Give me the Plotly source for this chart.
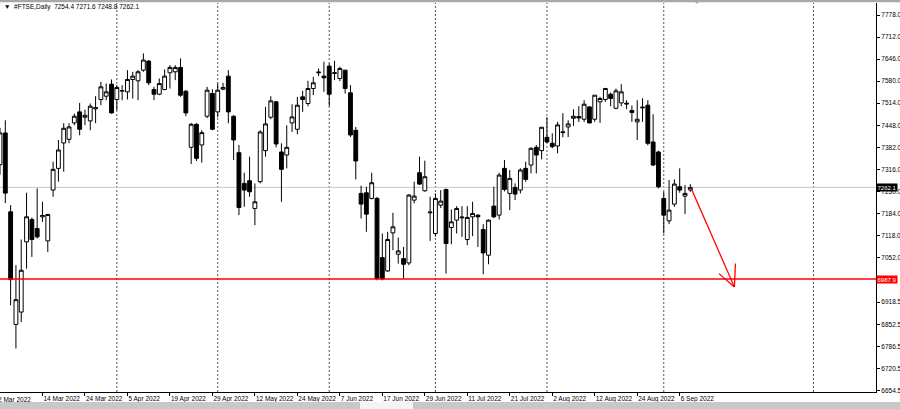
import pandas as pd
import plotly.graph_objects as go

# ---------------- data ----------------
SYMBOL = "#FTSE,Daily"
START_DATE = "2022-03-02"
END_DATE = "2022-09-08"
HOLIDAYS = ["2022-04-15", "2022-04-18", "2022-05-02", "2022-06-02", "2022-06-03", "2022-08-29"]

OPEN = [7330, 7425, 7189, 6852, 6889, 7099, 7166, 7139, 7174, 7102,
        7254, 7319, 7395, 7406, 7455, 7488, 7472, 7461, 7497, 7525,
        7535, 7571, 7525, 7550, 7548, 7585, 7581, 7613, 7640, 7555,
        7541, 7555, 7605, 7608, 7621, 7550, 7382, 7451, 7389, 7475,
        7543, 7488, 7556, 7595, 7475, 7366, 7274, 7282, 7199, 7279,
        7372, 7472, 7518, 7368, 7359, 7455, 7436, 7533, 7513, 7558,
        7605, 7595, 7625, 7603, 7588, 7613, 7545, 7433, 7244, 7246,
        7229, 7229, 7052, 7012, 7126, 7062, 7049, 7036, 7224, 7306,
        7252, 7186, 7124, 7209, 7256, 7142, 7164, 7171, 7106, 7174,
        7179, 7136, 7059, 7206, 7179, 7319, 7244, 7262, 7254, 7319,
        7329, 7382, 7372, 7412, 7394, 7386, 7426, 7443, 7469, 7474,
        7466, 7503, 7466, 7518, 7525, 7541, 7499, 7515, 7514, 7492,
        7458, 7500, 7508, 7398, 7368, 7229, 7162, 7212, 7264, 7236,
        7254.4]
HIGH = [7440, 7463, 7209, 7029, 7106, 7246, 7172, 7259, 7219, 7183,
        7339, 7404, 7454, 7454, 7483, 7515, 7495, 7513, 7535, 7578,
        7573, 7585, 7568, 7568, 7613, 7608, 7613, 7663, 7643, 7563,
        7588, 7615, 7628, 7628, 7648, 7553, 7455, 7454, 7433, 7563,
        7556, 7573, 7575, 7613, 7478, 7389, 7306, 7354, 7274, 7433,
        7503, 7535, 7521, 7394, 7448, 7511, 7533, 7551, 7581, 7593,
        7618, 7638, 7633, 7641, 7623, 7613, 7568, 7443, 7267, 7264,
        7306, 7234, 7124, 7129, 7186, 7112, 7084, 7242, 7279, 7354,
        7342, 7234, 7244, 7254, 7258, 7196, 7206, 7206, 7206, 7219,
        7181, 7152, 7166, 7264, 7306, 7344, 7314, 7274, 7319, 7339,
        7382, 7389, 7443, 7472, 7424, 7458, 7484, 7463, 7496, 7505,
        7523, 7505, 7538, 7533, 7560, 7546, 7558, 7571, 7523, 7507,
        7523, 7529, 7523, 7481, 7372, 7249, 7284, 7286, 7319, 7269,
        7271.6]
LOW = [7300, 7215, 6909, 6780, 6859, 7019, 7054, 7109, 7159, 7069,
       7234, 7279, 7309, 7394, 7448, 7418, 7448, 7433, 7454, 7508,
       7523, 7483, 7493, 7523, 7525, 7528, 7523, 7608, 7568, 7523,
       7538, 7553, 7558, 7583, 7533, 7475, 7332, 7341, 7336, 7469,
       7433, 7472, 7553, 7454, 7344, 7179, 7204, 7234, 7149, 7274,
       7354, 7466, 7382, 7219, 7319, 7428, 7421, 7488, 7505, 7538,
       7595, 7548, 7505, 7583, 7580, 7543, 7413, 7286, 7169, 7129,
       7226, 6984, 6984, 7009, 7074, 7034, 6989, 7029, 7214, 7269,
       7249, 7102, 7115, 7200, 7004, 7092, 7124, 7114, 7089, 7116,
       7084, 7002, 7032, 7170, 7166, 7250, 7194, 7224, 7244, 7279,
       7304, 7304, 7346, 7395, 7379, 7364, 7412, 7413, 7446, 7458,
       7458, 7454, 7458, 7455, 7518, 7505, 7496, 7505, 7496, 7458,
       7404, 7458, 7388, 7326, 7259, 7124, 7152, 7204, 7246, 7182,
       7248.8]
CLOSE = [7425, 7245, 6986, 6926, 7014, 7174, 7106, 7114, 7178, 7181,
         7316, 7374, 7439, 7443, 7475, 7436, 7478, 7505, 7501, 7563,
         7548, 7485, 7561, 7552, 7585, 7595, 7608, 7643, 7575, 7541,
         7573, 7595, 7621, 7621, 7538, 7485, 7451, 7349, 7426, 7553,
         7436, 7553, 7561, 7488, 7404, 7202, 7254, 7249, 7219, 7428,
         7452, 7521, 7392, 7316, 7382, 7473, 7508, 7525, 7558, 7575,
         7607, 7590, 7541, 7605, 7618, 7558, 7419, 7341, 7212, 7182,
         7276, 6989, 6988, 7106, 7144, 7072, 7032, 7239, 7236, 7272,
         7294, 7188, 7229, 7221, 7094, 7159, 7199, 7173, 7172, 7184,
         7174, 7066, 7164, 7174, 7299, 7256, 7289, 7242, 7314, 7286,
         7379, 7359, 7442, 7398, 7384, 7449, 7428, 7452, 7475, 7470,
         7511, 7455, 7538, 7528, 7558, 7528, 7551, 7548, 7512, 7486,
         7466, 7502, 7394, 7329, 7264, 7179, 7194, 7272, 7254, 7244,
         7262.1]

SUPPORT_LEVEL = 6987.9
LAST_PRICE = 7262.1
Y_TICKS = [7778.0, 7712.0, 7646.0, 7580.0, 7514.0, 7448.0, 7382.0, 7316.0, 7250.0,
           7184.0, 7118.0, 7052.0, 6918.5, 6852.5, 6786.5, 6720.5, 6654.5]
Y_RANGE = [6649.7, 7813.9]
X_RANGE = [0.0, 164.97]
X_LABEL_EVERY = 8
FUTURE_GRID_POS = 153.2
# forecast arrow (bar position, price)
ARROW_START = (130.2, 7258.0)
ARROW_TIP = (138.3, 6964.0)
ARROW_BARB_A = (135.4, 7004.0)
ARROW_BARB_B = (138.5, 7034.0)

# ---------------- build ----------------
bdays = pd.bdate_range(START_DATE, END_DATE)
dates = [d for d in bdays if d.strftime("%Y-%m-%d") not in HOLIDAYS]
idx = list(range(len(dates)))

def lab(d):
    return f"{d.day} {d.strftime('%b %Y')}"

tickvals = idx[X_LABEL_EVERY::X_LABEL_EVERY]
ticktext = [lab(dates[i]) for i in tickvals]

# month start grid positions
month_starts = [i for i in idx[1:] if dates[i].month != dates[i - 1].month]

FONT = dict(family="Liberation Sans", size=6.5, color="#000000")
LABEL_FONT = dict(family="Liberation Sans", size=6, color="#ffffff")

fig = go.Figure()
fig.add_trace(go.Candlestick(
    x=idx, open=OPEN, high=HIGH, low=LOW, close=CLOSE,
    increasing=dict(line=dict(color="#000000", width=1), fillcolor="#ffffff"),
    decreasing=dict(line=dict(color="#000000", width=1), fillcolor="#000000"),
    whiskerwidth=0, hoverinfo="skip", showlegend=False,
))

shapes = []
for m in month_starts + [FUTURE_GRID_POS]:
    shapes.append(dict(type="line", xref="x", yref="paper", x0=m, x1=m, y0=0, y1=1,
                       line=dict(color="#555555", width=1, dash="2px,2px"), layer="below"))
shapes.append(dict(type="line", xref="paper", yref="y", x0=0, x1=1, y0=LAST_PRICE, y1=LAST_PRICE,
                   line=dict(color="#c8c8c8", width=1), layer="below"))
shapes.append(dict(type="line", xref="paper", yref="y", x0=0, x1=1, y0=SUPPORT_LEVEL, y1=SUPPORT_LEVEL,
                   line=dict(color="#ff0000", width=1.6)))
for (a, b) in [(ARROW_START, ARROW_TIP), (ARROW_BARB_A, ARROW_TIP), (ARROW_BARB_B, ARROW_TIP)]:
    shapes.append(dict(type="line", xref="x", yref="y", x0=a[0], y0=a[1], x1=b[0], y1=b[1],
                       line=dict(color="#ff0000", width=1.3)))
# window chrome: top bar, bottom scrollbar, chart-shift marker
shapes.append(dict(type="rect", xref="paper", yref="paper", x0=0, x1=1.03, y0=1.0018, y1=1.01,
                   fillcolor="#a8a8a8", line=dict(width=0)))
shapes.append(dict(type="rect", xref="paper", yref="paper", x0=0, x1=1.03, y0=-0.0437, y1=-0.0257,
                   fillcolor="#c8c8c8", line=dict(width=0)))
shapes.append(dict(type="rect", xref="paper", yref="paper", x0=360 / 876, x1=413 / 876, y0=-0.0437, y1=-0.0257,
                   fillcolor="#f4f4f4", line=dict(width=0)))
shapes.append(dict(type="path", xref="paper", yref="paper",
                   path="M 0.7915 1.0077 L 0.7995 1.0077 L 0.7955 0.9975 Z",
                   fillcolor="#a8a8a8", line=dict(width=0)))

annotations = [
    dict(xref="paper", yref="paper", x=0, y=1, xanchor="left", yanchor="top", xshift=2, yshift=2,
         text="\u25bc  " + SYMBOL + "  " + f"{OPEN[-1]:.1f} {HIGH[-1]:.1f} {LOW[-1]:.1f} {CLOSE[-1]:.1f}",
         showarrow=False, font=FONT),
    dict(xref="paper", yref="paper", x=0, y=0, xanchor="left", yanchor="top", xshift=-4, yshift=-2,
         text=lab(dates[0]), showarrow=False, font=FONT),
    dict(xref="paper", yref="y", x=1, y=LAST_PRICE, xanchor="left", yanchor="middle", xshift=0,
         text=f"{LAST_PRICE:.1f}", showarrow=False, bgcolor="#000000", borderpad=0.5,
         font=LABEL_FONT),
    dict(xref="paper", yref="y", x=1, y=SUPPORT_LEVEL, xanchor="left", yanchor="middle", xshift=0,
         text=f"{SUPPORT_LEVEL:.1f}", showarrow=False, bgcolor="#ff0000", borderpad=0.5,
         font=LABEL_FONT),
]

fig.update_layout(
    width=900, height=409,
    margin=dict(l=0, r=24, t=3, b=17, autoexpand=False),
    paper_bgcolor="#ffffff", plot_bgcolor="#ffffff",
    boxgap=0.15, boxgroupgap=0.15,
    shapes=shapes, annotations=annotations,
    font=FONT,
    xaxis=dict(range=X_RANGE, tickmode="array", tickvals=tickvals, ticktext=ticktext,
               showgrid=False, zeroline=False, showline=True, linecolor="#000000", linewidth=1,
               ticks="outside", ticklen=3, tickcolor="#000000", tickwidth=1, tickangle=0,
               ticklabelposition="outside right", rangeslider=dict(visible=False),
               automargin=False, tickfont=FONT, fixedrange=True),
    yaxis=dict(range=Y_RANGE, side="right", tickmode="array", tickvals=Y_TICKS,
               ticktext=[f"{v:.1f}" for v in Y_TICKS],
               showgrid=False, zeroline=False, showline=True, linecolor="#000000", linewidth=1,
               ticks="outside", ticklen=3, tickcolor="#000000", tickwidth=1,
               automargin=False, tickfont=FONT, fixedrange=True),
)

fig.write_html(
    "out.html",
    config=dict(displayModeBar=False),
    post_script="document.body.style.margin='0';document.body.style.overflow='hidden';",
)
